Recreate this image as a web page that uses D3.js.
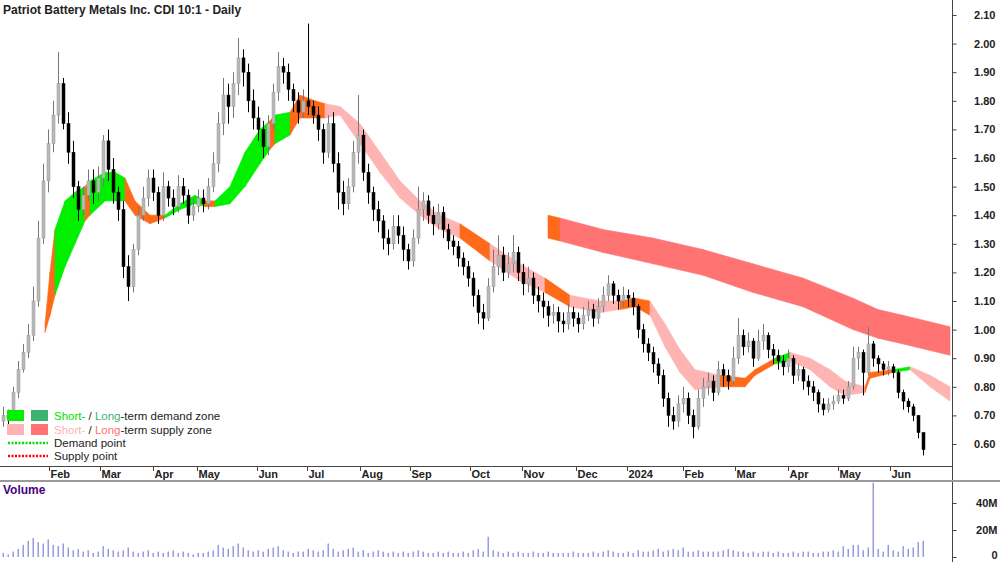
<!DOCTYPE html>
<html><head><meta charset="utf-8">
<script src="https://cdn.jsdelivr.net/npm/d3@7"></script>
<style>body{margin:0;background:#fff}svg{display:block;font-family:"Liberation Sans",Arial,sans-serif}</style>
</head><body><svg id="c" width="1000" height="562"></svg>
<script>
const closes=[.70,.69,.78,.86,.92,.98,1.10,1.32,1.52,1.65,1.75,1.86,1.72,1.62,1.50,1.42,1.47,1.52,1.48,1.53,1.66,1.56,1.48,1.42,1.22,1.15,1.28,1.40,1.46,1.53,1.48,1.40,1.50,1.46,1.43,1.50,1.47,1.40,1.43,1.46,1.44,1.50,1.58,1.72,1.82,1.78,1.86,1.95,1.90,1.80,1.74,1.70,1.64,1.72,1.83,1.92,1.90,1.84,1.80,1.76,1.80,1.78,1.75,1.70,1.62,1.72,1.58,1.48,1.44,1.50,1.62,1.68,1.55,1.48,1.42,1.38,1.32,1.30,1.36,1.33,1.28,1.24,1.32,1.42,1.45,1.40,1.37,1.41,1.35,1.31,1.29,1.25,1.22,1.18,1.12,1.06,1.04,1.15,1.22,1.26,1.20,1.23,1.27,1.20,1.16,1.18,1.12,1.10,1.08,1.05,1.06,1.03,1.02,1.06,1.04,1.02,1.05,1.07,1.04,1.08,1.12,1.16,1.12,1.10,1.12,1.11,1.08,1.00,.95,.92,.88,.84,.76,.70,.68,.74,.76,.70,.66,.76,.80,.82,.78,.86,.84,.82,.90,.98,.94,.96,.90,.96,.98,.93,.91,.89,.87,.90,.84,.86,.82,.80,.78,.74,.72,.74,.75,.77,.76,.80,.90,.92,.85,.95,.90,.88,.86,.87,.85,.78,.75,.73,.70,.64,.58];
const highs=[.73,.72,.80,.89,.95,1.02,1.15,1.38,1.58,1.70,1.80,1.97,1.88,1.76,1.66,1.52,1.50,1.56,1.56,1.57,1.68,1.70,1.60,1.50,1.45,1.26,1.30,1.43,1.50,1.56,1.56,1.50,1.55,1.52,1.49,1.54,1.53,1.49,1.46,1.49,1.49,1.53,1.62,1.76,1.88,1.86,1.90,2.02,1.98,1.93,1.84,1.78,1.73,1.75,1.86,1.97,1.95,1.93,1.86,1.83,1.84,2.07,1.80,1.78,1.72,1.75,1.76,1.62,1.52,1.53,1.66,1.82,1.70,1.58,1.50,1.45,1.40,1.35,1.40,1.40,1.36,1.30,1.35,1.50,1.48,1.47,1.43,1.44,1.43,1.37,1.33,1.31,1.27,1.24,1.20,1.14,1.09,1.18,1.28,1.33,1.29,1.27,1.33,1.29,1.23,1.22,1.20,1.15,1.13,1.10,1.09,1.08,1.06,1.09,1.08,1.06,1.08,1.10,1.09,1.11,1.15,1.19,1.17,1.14,1.15,1.14,1.13,1.09,1.02,.97,.94,.90,.86,.78,.73,.77,.80,.78,.72,.79,.83,.85,.84,.89,.88,.86,.94,1.04,1.00,.99,.97,1.00,1.02,.99,.95,.93,.91,.93,.91,.88,.87,.84,.82,.79,.76,.76,.77,.79,.79,.82,.94,.94,.93,1.01,.96,.91,.89,.89,.88,.86,.79,.76,.74,.70,.64];
const lows=[.66,.66,.68,.76,.85,.90,.96,1.08,1.30,1.48,1.62,1.72,1.70,1.58,1.46,1.38,1.40,1.45,1.44,1.45,1.50,1.52,1.44,1.38,1.18,1.10,1.13,1.26,1.38,1.43,1.45,1.37,1.38,1.43,1.40,1.41,1.44,1.37,1.38,1.41,1.41,1.42,1.48,1.55,1.68,1.72,1.74,1.82,1.85,1.76,1.70,1.66,1.60,1.61,1.70,1.80,1.86,1.80,1.76,1.72,1.74,1.75,1.72,1.66,1.58,1.60,1.55,1.42,1.40,1.42,1.48,1.58,1.52,1.44,1.38,1.34,1.28,1.26,1.28,1.30,1.24,1.21,1.22,1.30,1.38,1.37,1.33,1.35,1.32,1.28,1.26,1.22,1.19,1.15,1.08,1.02,1.00,1.03,1.13,1.19,1.17,1.18,1.20,1.17,1.12,1.13,1.09,1.06,1.04,1.01,1.02,.99,.99,1.00,1.01,.99,1.00,1.03,1.01,1.02,1.06,1.10,1.09,1.07,1.08,1.08,1.05,.97,.92,.89,.85,.81,.73,.66,.65,.66,.71,.67,.62,.65,.73,.77,.75,.77,.80,.79,.81,.88,.91,.92,.87,.89,.93,.90,.88,.86,.84,.85,.81,.82,.79,.77,.75,.71,.70,.71,.72,.74,.74,.75,.79,.86,.77,.84,.87,.85,.84,.84,.83,.76,.72,.71,.68,.62,.56];
const volumes=[3,2,4,6,9,12,14,11,10,13,9,8,10,7,5,6,4,5,3,4,8,6,5,4,5,7,4,3,4,5,3,4,3,4,5,3,4,3,2,3,3,4,5,9,7,6,8,10,7,5,4,5,4,6,7,8,5,4,3,4,4,6,5,4,5,10,6,4,5,6,7,4,5,3,4,5,4,3,4,3,4,3,4,5,4,3,3,4,3,4,3,3,4,3,5,6,4,15,5,4,3,4,3,4,3,3,4,3,3,4,3,3,3,3,4,3,3,3,4,3,4,5,4,3,3,4,3,5,4,4,5,6,4,5,6,5,7,4,4,5,4,4,4,4,5,6,5,4,4,3,4,3,4,4,3,4,3,3,4,3,4,4,3,3,4,4,5,4,8,6,9,9,5,7,55,6,4,9,5,4,8,6,7,11,12];
const monthLabels=["Feb","Mar","Apr","May","Jun","Jul","Aug","Sep","Oct","Nov","Dec","2024","Feb","Mar","Apr","May","Jun"];
const monthBars=[9.2,19.4,30,38.8,50.8,60.8,71.4,81.4,93.4,103.8,114.6,124.8,136,146.4,157,167,177.4];
const priceTicks=[0.6,0.7,0.8,0.9,1.0,1.1,1.2,1.3,1.4,1.5,1.6,1.7,1.8,1.9,2.0,2.1];
const volTicks=[0,20,40];
// short-term zone: bar position, upper, lower, colour key of segment
const stBar=[8.4,9.4,10.4,12.4,14.4,16.4,17.4,20.4,22.4,24.4,26.4,29.4,32.4,35.4,38.4,40.4,42.4,45.4,48.4,51.4,53.4,54.4,57.4,59.4,62.4,64.4,67.4,71.4,75.4,79.4,83.4,87.4,91.4,97.4,103.4,108.4,113.4,119.4,123.4,126.4,129.4,132.4,135.4,138.4,143.4,148.4,150.4,154.4,157.4,161.4,165.4,168.4,172.4,173.4,178,181.4,185.4,189.4];
const stHi=[1.02,1.20,1.35,1.45,1.48,1.50,1.52,1.55,1.55,1.53,1.45,1.40,1.40,1.44,1.47,1.45,1.45,1.50,1.62,1.70,1.73,1.75,1.76,1.82,1.80,1.79,1.78,1.72,1.62,1.52,1.45,1.40,1.37,1.30,1.23,1.18,1.12,1.10,1.10,1.11,1.10,1.02,.93,.86,.84,.83,.86,.90,.92,.90,.86,.82,.80,.85,.86,.87,.84,.80];
const stLo=[.99,1.05,1.12,1.22,1.30,1.38,1.40,1.45,1.45,1.45,1.40,1.37,1.39,1.42,1.44,1.43,1.43,1.44,1.50,1.58,1.63,1.65,1.68,1.74,1.74,1.74,1.75,1.65,1.55,1.46,1.40,1.35,1.32,1.24,1.17,1.13,1.08,1.06,1.07,1.08,1.05,.94,.85,.79,.80,.80,.84,.88,.89,.86,.80,.77,.78,.83,.85,.86,.80,.75];
const stKind=["o","o","g","g","g","o","g","g","g","o","o","o","g","g","g","o","g","g","g","g","o","g","o","o","o","p","p","p","p","p","p","p","o","p","p","o","p","p","o","o","p","p","p","p","o","o","o","g","p","p","p","p","o","o","g","p","p","p"];
// long-term zone
const ltBar=[109,111.4,120,130,140,150,160,170,175,180,189.4];
const ltHi=[1.40,1.39,1.35,1.32,1.28,1.23,1.18,1.11,1.07,1.05,1.01];
const ltLo=[1.32,1.31,1.27,1.23,1.19,1.13,1.08,1.00,.97,.95,.91];
const ltKind=["o","r","r","r","r","r","r","r","r","r","r"];

const colors={g:"#00f000",o:"#ff6a1a",p:"#ffb4b4",r:"#ff7373"};
const svg=d3.select("#c");
const x=d3.scaleLinear().domain([0,184]).range([3,923]);
const y=d3.scaleLinear().domain([0.6,2.1]).range([444,15]);
const yv=d3.scaleLinear().domain([0,40]).range([557,503]);

svg.append("text").attr("x",3).attr("y",14).attr("font-size",12).attr("font-weight","bold").attr("fill","#222").text("Patriot Battery Metals Inc. CDI 10:1 - Daily");

function zone(bars,hi,lo,kind){
  const g=svg.append("g");
  for(let i=0;i<bars.length-1;i++){
    const pts=[[x(bars[i]),y(hi[i])],[x(bars[i+1]),y(hi[i+1])],[x(bars[i+1]),y(lo[i+1])],[x(bars[i]),y(lo[i])]];
    g.append("path").attr("d","M"+pts.join("L")+"Z").attr("fill",colors[kind[i]]).attr("stroke",colors[kind[i]]).attr("stroke-width",0.6);
  }
}
zone(ltBar,ltHi,ltLo,ltKind);
zone(stBar,stHi,stLo,stKind);

const cg=svg.append("g");
closes.forEach((c,i)=>{
  const o=i?closes[i-1]:0.68, up=c>=o, col=up?"#9a9a9a":"#000";
  const cx=Math.round(x(i))+0.5;
  cg.append("line").attr("x1",cx).attr("x2",cx).attr("y1",y(highs[i])).attr("y2",y(lows[i])).attr("stroke",up?"#777":"#000").attr("stroke-width",1);
  const t=y(Math.max(o,c)),b=y(Math.min(o,c));
  cg.append("rect").attr("x",cx-1.5).attr("width",3).attr("y",t).attr("height",Math.max(1,b-t)).attr("fill",up?"#b8b8b8":"#000").attr("stroke",col).attr("stroke-width",0.5);
});

// axes
svg.append("line").attr("x1",0).attr("x2",952).attr("y1",466.5).attr("y2",466.5).attr("stroke","#444");
svg.append("line").attr("x1",952.5).attr("x2",952.5).attr("y1",0).attr("y2",481).attr("stroke","#444");
svg.append("line").attr("x1",952.5).attr("x2",952.5).attr("y1",482).attr("y2",562).attr("stroke","#444");
svg.append("rect").attr("x",0).attr("y",480).attr("width",1000).attr("height",2).attr("fill","#999");
const ya=d3.axisRight(y).tickValues(priceTicks).tickFormat(d3.format(".2f")).tickSize(4);
svg.append("g").attr("transform","translate(952.5,0)").call(ya).call(g=>{g.select(".domain").remove();g.selectAll("text").attr("x",43).attr("text-anchor","end").attr("font-size",11).attr("font-weight","bold").attr("fill","#222").attr("font-family","Liberation Sans, Arial");g.selectAll("line").attr("stroke","#444");});
const va=d3.axisRight(yv).tickValues(volTicks).tickFormat(d=>d?d+"M":"0").tickSize(4);
svg.append("g").attr("transform","translate(952.5,0)").call(va).call(g=>{g.select(".domain").remove();g.selectAll("text").attr("x",45).attr("text-anchor","end").attr("font-size",11).attr("font-weight","bold").attr("fill","#222").attr("font-family","Liberation Sans, Arial").attr("dy",d=>d?"0.32em":"0.1em");g.selectAll("line").attr("stroke","#444");});
const xa=svg.append("g");
monthBars.forEach((m,i)=>{
  const px=Math.round(x(m))+0.5;
  xa.append("line").attr("x1",px).attr("x2",px).attr("y1",466).attr("y2",471).attr("stroke","#444");
  xa.append("text").attr("x",px+1).attr("y",478).attr("font-size",11).attr("font-weight","bold").attr("fill","#222").text(monthLabels[i]);
});

// volume
svg.append("text").attr("x",3).attr("y",494).attr("font-size",12).attr("font-weight","bold").attr("fill","#4b0082").text("Volume");
svg.append("g").selectAll("rect").data(volumes).join("rect")
 .attr("x",(d,i)=>Math.round(x(i))-0.5).attr("width",1.5).attr("y",d=>yv(d)).attr("height",d=>yv(0)-yv(d)).attr("fill","#9a9ae0");

// legend
const lg=svg.append("g").attr("font-size",11.5);
lg.append("rect").attr("x",7).attr("y",410).attr("width",17).attr("height",11).attr("fill","#00f000");
lg.append("rect").attr("x",31).attr("y",410).attr("width",17).attr("height",11).attr("fill","#3cb371");
lg.append("rect").attr("x",7).attr("y",424).attr("width",17).attr("height",11).attr("fill","#ffb4b4");
lg.append("rect").attr("x",31).attr("y",424).attr("width",17).attr("height",11).attr("fill","#ff7373");
const t1=lg.append("text").attr("x",54).attr("y",420);
t1.append("tspan").attr("fill","#00e000").text("Short-");t1.append("tspan").attr("fill","#222").text(" / ");t1.append("tspan").attr("fill","#3cb371").text("Long");t1.append("tspan").attr("fill","#222").text("-term demand zone");
const t2=lg.append("text").attr("x",54).attr("y",434);
t2.append("tspan").attr("fill","#ffb4b4").text("Short-");t2.append("tspan").attr("fill","#222").text(" / ");t2.append("tspan").attr("fill","#ff7373").text("Long");t2.append("tspan").attr("fill","#222").text("-term supply zone");
lg.append("line").attr("x1",8).attr("x2",48).attr("y1",443).attr("y2",443).attr("stroke","#00e000").attr("stroke-width",2.5).attr("stroke-dasharray","2,1.5");
lg.append("line").attr("x1",8).attr("x2",48).attr("y1",456).attr("y2",456).attr("stroke","#ff0000").attr("stroke-width",2.5).attr("stroke-dasharray","2,1.5");
lg.append("text").attr("x",54).attr("y",447).attr("fill","#222").text("Demand point");
lg.append("text").attr("x",54).attr("y",460).attr("fill","#222").text("Supply point");
</script></body></html>
